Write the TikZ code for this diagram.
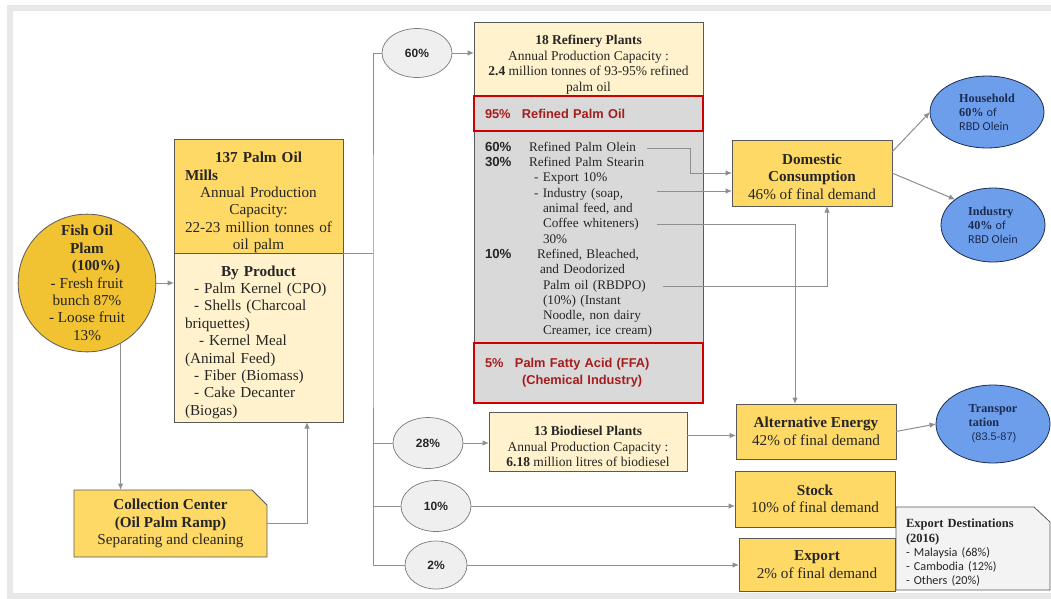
\documentclass[tikz,border=0pt]{standalone}
\usepackage{fontspec}
\setmainfont{Liberation Serif}
\setsansfont{Liberation Sans}
\newfontfamily\calfont{Carlito}
\usepackage{xcolor}
\usepackage{tikz}
\usetikzlibrary{arrows.meta,shapes,positioning,backgrounds}

\definecolor{goldfill}{HTML}{F1C232}
\definecolor{yellowfill}{HTML}{FFD966}
\definecolor{creamfill}{HTML}{FFF2CC}
\definecolor{greyfill}{HTML}{D9D9D9}
\definecolor{pctfill}{HTML}{EFEFEF}
\definecolor{bluefill}{HTML}{6D9EEB}
\definecolor{destfill}{HTML}{F3F3F3}
\definecolor{boxline}{HTML}{595959}
\definecolor{linkgray}{HTML}{8E8E8E}
\definecolor{redline}{HTML}{CC0000}
\definecolor{redtext}{HTML}{A61C1C}
\definecolor{navy}{HTML}{1C2B4E}
\definecolor{ink}{HTML}{262626}
\definecolor{framegray}{HTML}{E8E8E8}

\newcommand\fsbig{\fontsize{15.2}{17.4}\selectfont}
\newcommand\fsmid{\fontsize{13.5}{15.5}\selectfont}
\newcommand\fsbody{\fontsize{13.2}{15.3}\selectfont}
\newcommand\fsred{\sffamily\bfseries\fontsize{12.8}{17}\selectfont}
\newcommand\fsuser{\fontsize{12.2}{14}\selectfont}
\newcommand\fsdest{\fontsize{12.5}{14.5}\selectfont}
\newcommand\fsitem{\calfont\fontsize{12.2}{14}\selectfont}
\newcommand{\pcol}[2][44pt]{\makebox[#1][l]{\sffamily\bfseries #2}}

\tikzset{
  box/.style={draw=boxline, line width=0.8pt, outer sep=0pt, inner sep=0pt, text=ink, align=center},
  redbox/.style={box, draw=redline, line width=1.6pt, fill=greyfill, minimum width=229pt,
    text width=207pt, inner xsep=11pt, align=left, text=redtext, font=\fsred},
  pct/.style={ellipse, draw=boxline!80, line width=0.7pt, fill=pctfill, outer sep=0pt, inner sep=0pt,
    text=ink, font=\sffamily\bfseries\fontsize{12}{14}\selectfont},
  user/.style={ellipse, draw=navy, line width=0.8pt, fill=bluefill, outer sep=0pt, inner sep=0pt,
    text=navy, align=left, font=\fsuser},
  link/.style={draw=linkgray, line width=1pt},
}

\begin{document}
\begin{tikzpicture}[>={Latex[length=6.5pt,width=5.5pt]}, x=1pt, y=1pt]

\useasboundingbox (0,0) rectangle (1051,-598);
\draw[framegray, line width=6pt] (1060,-7.5) -| (9.5,-595.5) -- (1060,-595.5);

\coordinate(O1) at (0,0);

% plantation and mills
\node[below right=283pt and 87pt of O1, anchor=center, circle, draw=boxline, line width=0.8pt, fill=goldfill, minimum size=136pt, inner sep=0pt, align=center, text=ink, font=\fsbig](fop) {\textbf{Fish Oil}\\\textbf{Plam}\\\hspace*{18pt}\textbf{(100\%)}\\- Fresh fruit\\bunch 87\%\\- Loose fruit\\13\%};

\node[below right=139pt and 174pt of O1, box, fill=yellowfill, minimum width=169pt, minimum height=114pt, text width=147pt, inner xsep=11pt, font=\fsbig](mills) {\rule{0pt}{23.5pt}\textbf{137 Palm Oil}\\\textbf{Mills}\hfill\null\\Annual Production\\Capacity:\\22-23 million tonnes of\\oil palm};
\node[below right=253pt and 174pt of O1, box, fill=creamfill, minimum width=169pt, minimum height=169pt, text width=147pt, inner xsep=11pt, font=\fsbig](byprod) {\rule{0pt}{19.5pt}\textbf{By Product}\\
\hspace*{9pt}- Palm Kernel (CPO)\hfill\null\\
\hspace*{9pt}- Shells (Charcoal\hfill\null\\
briquettes)\hfill\null\\
\hspace*{14pt}- Kernel Meal\hfill\null\\
(Animal Feed)\hfill\null\\
\hspace*{9pt}- Fiber (Biomass)\hfill\null\\
\hspace*{9pt}- Cake Decanter\hfill\null\\
(Biogas)\hfill\null};

\node[below right=490pt and 74pt of O1, box, chamfered rectangle, chamfered rectangle corners=north east, chamfered rectangle xsep=12pt, fill=yellowfill, minimum width=193pt, minimum height=67pt, font=\fsbig](collect) {\textbf{Collection Center}\\\textbf{(Oil Palm Ramp)}\\Separating and cleaning};

% shares
\node[below right=53pt and 417pt of O1, anchor=center, pct, minimum width=70pt, minimum height=49pt](p60) {60\%};
\node[below right=443pt and 428pt of O1, anchor=center, pct, minimum width=70pt, minimum height=51pt](p28) {28\%};
\node[below right=506pt and 436pt of O1, anchor=center, pct, minimum width=70pt, minimum height=51pt](p10) {10\%};
\node[below right=565pt and 436pt of O1, anchor=center, pct, minimum width=62pt, minimum height=48pt](p2) {2\%};

% refinery
\node[below right=22pt and 474pt of O1, box, fill=creamfill, minimum width=229pt, minimum height=74pt, font=\fsmid](refin) {\rule{0pt}{20.5pt}\textbf{18 Refinery Plants}\\Annual Production Capacity :\\\textbf{2.4} million tonnes of 93-95\% refined\\palm oil};
\node[below right=131pt and 474pt of O1, box, fill=greyfill, minimum width=229pt, minimum height=212pt, text width=207pt, inner xsep=11pt, align=left, font=\fsbody](body) {\rule{0pt}{15pt}\pcol{60\%}Refined Palm Olein\\
\pcol{30\%}Refined Palm Stearin\\
\hspace*{49pt}- Export 10\%\\
\hspace*{49pt}- Industry (soap,\\
\hspace*{58pt}animal feed, and\\
\hspace*{58pt}Coffee whiteners)\\
\hspace*{58pt}30\%\\
\pcol[52pt]{10\%}Refined, Bleached,\\
\hspace*{55pt}and Deodorized\\
\hspace*{58pt}Palm oil (RBDPO)\\
\hspace*{58pt}(10\%) (Instant\\
\hspace*{58pt}Noodle, non dairy\\
\hspace*{58pt}Creamer, ice cream)};
\node[below right=96pt and 474pt of O1, redbox, minimum height=35pt](rpo) {\makebox[37pt][l]{95\%}Refined Palm Oil};
\node[below right=343pt and 474pt of O1, redbox, minimum height=60pt](ffa) {\makebox[30pt][l]{5\%}Palm Fatty Acid (FFA)\\\hspace*{37pt}(Chemical Industry)};

\node[below right=412pt and 489pt of O1, box, fill=creamfill, minimum width=198pt, minimum height=59pt, font=\fsmid](bio) {\rule{0pt}{20pt}\textbf{13 Biodiesel Plants}\\Annual Production Capacity :\\\textbf{6.18} million litres of biodiesel};

% final demand
\node[below right=140pt and 732pt of O1, box, fill=yellowfill, minimum width=160pt, minimum height=66pt, font=\fsbig](dom) {\rule{0pt}{18pt}\textbf{Domestic}\\\textbf{Consumption}\\46\% of final demand};
\node[below right=404pt and 736pt of O1, box, fill=yellowfill, minimum width=160pt, minimum height=55pt, font=\fsbig](alt) {\textbf{Alternative Energy}\\42\% of final demand};
\node[below right=471pt and 735pt of O1, box, fill=yellowfill, minimum width=160pt, minimum height=56pt, font=\fsbig](stock) {\textbf{Stock}\\10\% of final demand};
\node[below right=538pt and 739pt of O1, box, fill=yellowfill, minimum width=156pt, minimum height=53pt, font=\fsbig](export) {\textbf{Export}\\2\% of final demand};

\node[below right=507pt and 896pt of O1, box, draw=none, minimum width=154pt, minimum height=83pt, text width=134pt, inner xsep=10pt, align=left, font=\fsdest](expdest) {\rule{0pt}{17pt}\textbf{Export Destinations}\\\textbf{(2016)}\\\fsitem - Malaysia (68\%)\\- Cambodia (12\%)\\- Others (20\%)};
\begin{scope}[on background layer]
\draw[boxline, line width=0.8pt, fill=destfill] (expdest.south west) |- ([xshift=-16pt]expdest.north east) -- ([yshift=-15pt]expdest.north east) |- cycle;
\end{scope}

\node[below right=112pt and 987pt of O1, anchor=center, user, minimum width=114pt, minimum height=72pt](hh) {\textbf{Household}\\\textbf{60\%} {\calfont of}\\{\calfont RBD Olein}};
\node[below right=225pt and 993pt of O1, anchor=center, user, minimum width=104pt, minimum height=74pt](ind) {\textbf{Industry}\\\textbf{40\%} {\calfont of}\\{\calfont RBD Olein}};
\node[below right=424pt and 993pt of O1, anchor=center, user, minimum width=114pt, minimum height=78pt](tr) {\textbf{Transpor}\\\textbf{tation}\\\hspace*{3pt}{\sffamily\fontsize{11}{14}\selectfont(83.5-87)}};

\coordinate (tk) at (373,-253);
\coordinate (olein) at (647,-148);
\coordinate (stear) at (657,-191);
\coordinate (whiten) at (657,-224);
\coordinate (rbdpo) at (663,-286);
\coordinate (bioout) at ([yshift=6pt]bio.east);

\draw[link] (mills.south east) -- (tk);
\draw[link] (p60.west) -| (tk) |- (p2.west);
\draw[link] (tk |- p28.west) -- (p28.west);
\draw[link] (tk |- p10.west) -- (p10.west);

\draw[->, link] (fop.east) -- (fop.east -| byprod.west);
\draw[->, link] (fop.-61) -- (fop.-61 |- collect.north);
\draw[->, link] (collect.east) -| ([xshift=-36pt]byprod.south east);

\draw[->, link] (p60.east) -- (p60.east -| refin.west);
\draw[->, link] (p28.east) -- (p28.east -| bio.west);
\draw[->, link] (p10.east) -- (p10.east -| stock.west);
\draw[->, link] (p2.east) -- (p2.east -| export.west);

\draw[->, link] (olein) -- ++(43,0) |- (dom.west);
\draw[->, link] (stear) -- (stear -| dom.west);
\draw[->, link] (whiten) -| ([xshift=-21pt]alt.north);
\draw[->, link] (rbdpo) -| ([xshift=15pt]dom.south);
\draw[->, link] (bioout) -- (bioout -| alt.west);

\draw[->, link] ([yshift=-12pt]dom.north east) -- (hh.west);
\draw[->, link] (dom.east) -- (ind.146);
\draw[->, link] (alt.east) -- (tr.west);

\end{tikzpicture}
\end{document}
